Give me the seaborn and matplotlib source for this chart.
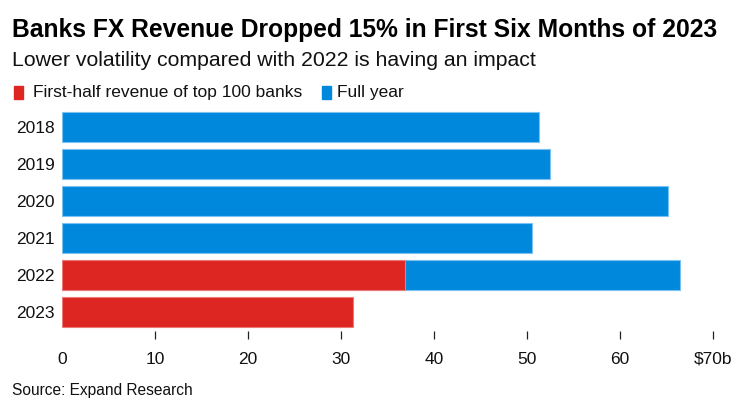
import matplotlib
matplotlib.use("Agg")
import matplotlib.pyplot as plt
import seaborn as sns
import numpy as np
import pandas as pd
from matplotlib import font_manager
from matplotlib.patches import Rectangle

years = ["2018", "2019", "2020", "2021", "2022", "2023"]
full_year = [51.3, 52.5, 65.2, 50.5, 66.5, np.nan]
first_half = [np.nan, np.nan, np.nan, np.nan, 36.9, 31.3]
x_ticks = [0, 10, 20, 30, 40, 50, 60, 70]
x_labels = ["0", "10", "20", "30", "40", "50", "60", "$70b"]

BLUE = "#0088DD"
RED = "#DD2622"

sns.set_theme(style="white")
avail = {f.name for f in font_manager.fontManager.ttflist}
narrow = "Liberation Sans Narrow" if "Liberation Sans Narrow" in avail else "Liberation Sans"
plt.rcParams["font.family"] = [narrow, "DejaVu Sans"]

df = pd.DataFrame({"year": years, "full": full_year, "half": first_half})

fig = plt.figure(figsize=(7.51, 4.04), dpi=100)
W, H = 751, 404
ax = fig.add_axes([62 / W, 1 - 330.7 / H, (713 - 62) / W, (330.7 - 108.65) / H])

sns.barplot(data=df, y="year", x="full", color=BLUE, orient="h", width=0.8,
            edgecolor="#7CC2F0", linewidth=0.8, saturation=1, ax=ax)
sns.barplot(data=df, y="year", x="half", color=RED, orient="h", width=0.8,
            edgecolor="#EE7A77", linewidth=0.8, saturation=1, ax=ax)

ax.set_xlim(0, 70)
ax.set_ylim(5.5, -0.5)
ax.set_xlabel("")
ax.set_ylabel("")
for s in ax.spines.values():
    s.set_visible(False)
ax.set_xticks(x_ticks)
ax.set_xticklabels(x_labels, fontsize=12.5, color="#111111")
ax.tick_params(axis="x", length=6, width=0.9, color="#222222", direction="out",
               pad=9, bottom=True)
ax.xaxis.get_major_ticks()[0].tick1line.set_visible(False)
ax.tick_params(axis="y", length=0, pad=5, labelsize=12.5, labelcolor="#111111")

fig.text(12 / W, 1 - 30 / H, "Banks FX Revenue Dropped 15% in First Six Months of 2023",
         fontsize=17.7, fontweight="bold", va="center", ha="left", color="#000000")
fig.text(12 / W, 1 - 61 / H, "Lower volatility compared with 2022 is having an impact",
         fontsize=15.3, va="center", ha="left", color="#111111")

fig.patches.append(Rectangle((14 / W, 1 - 98.5 / H), 9 / W, 12 / H, color=RED,
                             transform=fig.transFigure, figure=fig))
fig.text(33 / W, 1 - 92.5 / H, "First-half revenue of top 100 banks", fontsize=12.5,
         va="center", ha="left", color="#111111")
fig.patches.append(Rectangle((322 / W, 1 - 98.5 / H), 9 / W, 12 / H, color=BLUE,
                             transform=fig.transFigure, figure=fig))
fig.text(337 / W, 1 - 92.5 / H, "Full year", fontsize=12.5,
         va="center", ha="left", color="#111111")

fig.text(12 / W, 1 - 390 / H, "Source: Expand Research", fontsize=11.2,
         va="center", ha="left", color="#111111")

fig.savefig("out.png", dpi=100)
